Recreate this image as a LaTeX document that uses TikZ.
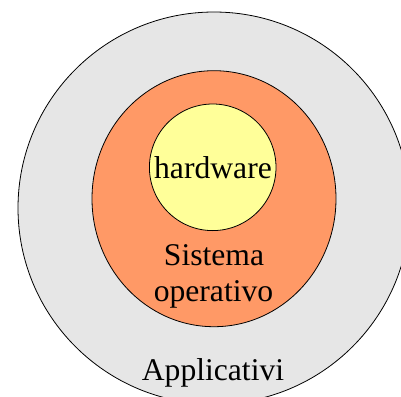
\documentclass[tikz,border=0pt]{standalone}
\usepackage{fontspec}
\setmainfont{Liberation Serif}
\definecolor{appgray}{RGB}{230,230,230}
\definecolor{osorange}{RGB}{255,153,102}
\definecolor{hwyellow}{RGB}{255,255,153}
\tikzset{
	layer/.style={draw=black, line width=0.04cm},
	layertext/.style={font=\fontsize{45}{52}\selectfont, anchor=base, inner sep=0pt}
}
\begin{document}
\begin{tikzpicture}[x=0.05cm, y=-0.05cm]
	\useasboundingbox (0,0) rectangle (401,397);
	\clip (0,0) rectangle (401,397);
	%applicativi
	\draw[layer, fill=appgray] (214,208) ellipse [x radius=196, y radius=196];
	%sistema operativo
	\draw[layer, fill=osorange] (214,198.7) ellipse [x radius=122, y radius=128];
	%hardware
	\draw[layer, fill=hwyellow] (212.7,167.3) ellipse [x radius=63.3, y radius=63.3];
	
	\node[layertext] (hw) at (213,178){hardware};
	\node[layertext] (sys) at (214,265){Sistema};
	\node[layertext] (op) at (213.5,301){operativo};
	\node[layertext] (app) at (213,380){Applicativi};
\end{tikzpicture}
\end{document}
